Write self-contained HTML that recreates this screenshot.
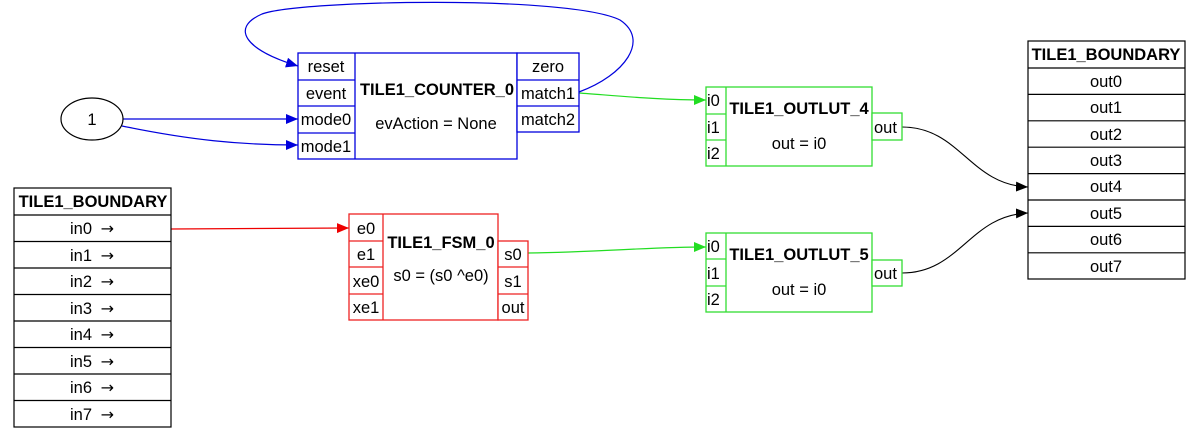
<!DOCTYPE html>
<html><head><meta charset="utf-8"><style>
html,body{margin:0;padding:0;background:#fff;width:1200px;height:437px;overflow:hidden}
svg text{font-family:"Liberation Sans",Arial,sans-serif;font-size:16.5px;fill:#000}
.b{font-weight:bold;font-size:16.5px}
.ar{font-family:"DejaVu Sans",sans-serif;font-size:16px}
</style></head><body>
<svg width="1200" height="437" viewBox="0 0 1200 437" xmlns="http://www.w3.org/2000/svg">
<defs>
<marker id="ab" markerWidth="12" markerHeight="10" refX="12" refY="5" orient="auto" markerUnits="userSpaceOnUse"><path d="M0,0L12,5L0,10z" fill="#0000dd"/></marker>
<marker id="ar" markerWidth="12" markerHeight="10" refX="12" refY="5" orient="auto" markerUnits="userSpaceOnUse"><path d="M0,0L12,5L0,10z" fill="#ee0000"/></marker>
<marker id="ag" markerWidth="12" markerHeight="10" refX="12" refY="5" orient="auto" markerUnits="userSpaceOnUse"><path d="M0,0L12,5L0,10z" fill="#22dd22"/></marker>
<marker id="ak" markerWidth="12" markerHeight="10" refX="12" refY="5" orient="auto" markerUnits="userSpaceOnUse"><path d="M0,0L12,5L0,10z" fill="#000"/></marker>
</defs>

<path d="M579,92 C625,75 650,40 620,20 C570,-5 300,0 262,14 C230,28 245,50 298,66" fill="none" stroke="#0000dd" stroke-width="1.2" marker-end="url(#ab)"/>
<path d="M123,119 L298,119" fill="none" stroke="#0000dd" stroke-width="1.2" marker-end="url(#ab)"/>
<path d="M122,126 C190,140 240,145 298,145" fill="none" stroke="#0000dd" stroke-width="1.2" marker-end="url(#ab)"/>
<path d="M171,229 L349,228" fill="none" stroke="#ee0000" stroke-width="1.2" marker-end="url(#ar)"/>
<path d="M579,93 C620,96 660,100 706,100" fill="none" stroke="#22dd22" stroke-width="1.2" marker-end="url(#ag)"/>
<path d="M528,253 C600,252 650,247 706,247" fill="none" stroke="#22dd22" stroke-width="1.2" marker-end="url(#ag)"/>
<path d="M902,127 C960,127 970,185 1028,187" fill="none" stroke="#000" stroke-width="1.1" marker-end="url(#ak)"/>
<path d="M902,273 C960,273 970,215 1028,213" fill="none" stroke="#000" stroke-width="1.1" marker-end="url(#ak)"/>

<ellipse cx="92" cy="119" rx="31" ry="21" fill="#fff" stroke="#000" stroke-width="1.2"/>
<text x="92" y="125" text-anchor="middle">1</text>

<g fill="#fff" stroke="#0000dd" stroke-width="1.3">
<rect x="298" y="53" width="219" height="106"/>
<rect x="517" y="53" width="62" height="79"/>
<line x1="355" y1="53" x2="355" y2="159"/>
<line x1="298" y1="80" x2="355" y2="80"/><line x1="298" y1="106" x2="355" y2="106"/><line x1="298" y1="133" x2="355" y2="133"/>
<line x1="517" y1="80" x2="579" y2="80"/><line x1="517" y1="106" x2="579" y2="106"/>
</g>
<g text-anchor="middle">
<text x="326" y="72">reset</text><text x="326" y="99">event</text><text x="326" y="125">mode0</text><text x="326" y="152">mode1</text>
<text x="548" y="72">zero</text><text x="548" y="99">match1</text><text x="548" y="125">match2</text>
<text x="437" y="95" class="b">TILE1_COUNTER_0</text><text x="436" y="129">evAction = None</text>
</g>

<g fill="#fff" stroke="#ee2222" stroke-width="1.3">
<rect x="349" y="214" width="149" height="106"/>
<line x1="383" y1="214" x2="383" y2="320"/>
<line x1="349" y1="241" x2="383" y2="241"/><line x1="349" y1="267" x2="383" y2="267"/><line x1="349" y1="294" x2="383" y2="294"/>
<rect x="498" y="241" width="30" height="79"/>
<line x1="498" y1="267" x2="528" y2="267"/><line x1="498" y1="294" x2="528" y2="294"/>
</g>
<g text-anchor="middle">
<text x="366" y="234">e0</text><text x="366" y="260">e1</text><text x="366" y="287">xe0</text><text x="366" y="313">xe1</text>
<text x="513" y="260">s0</text><text x="513" y="287">s1</text><text x="513" y="313">out</text>
<text x="441" y="248" class="b">TILE1_FSM_0</text><text x="441" y="281">s0 = (s0 ^e0)</text>
</g>

<g fill="#fff" stroke="#33dd33" stroke-width="1.3">
<rect x="706" y="87" width="166" height="79"/>
<line x1="726" y1="87" x2="726" y2="166"/>
<line x1="706" y1="114" x2="726" y2="114"/><line x1="706" y1="140" x2="726" y2="140"/>
<rect x="872" y="113" width="30" height="27"/>
<rect x="706" y="233" width="166" height="79"/>
<line x1="726" y1="233" x2="726" y2="312"/>
<line x1="706" y1="259" x2="726" y2="259"/><line x1="706" y1="286" x2="726" y2="286"/>
<rect x="872" y="260" width="30" height="26"/>
</g>
<g>
<text x="707" y="106">i0</text><text x="707" y="133">i1</text><text x="707" y="159">i2</text>
<text x="874" y="133">out</text>
<text x="799" y="114" class="b" text-anchor="middle">TILE1_OUTLUT_4</text><text x="799" y="149" text-anchor="middle">out = i0</text>
<text x="707" y="252">i0</text><text x="707" y="279">i1</text><text x="707" y="305">i2</text>
<text x="874" y="279">out</text>
<text x="799" y="260" class="b" text-anchor="middle">TILE1_OUTLUT_5</text><text x="799" y="295" text-anchor="middle">out = i0</text>
</g>

<g fill="none" stroke="#000" stroke-width="1.2">
<rect x="14" y="188" width="157" height="239" fill="#fff"/>
<line x1="14" y1="215" x2="171" y2="215"/>
<line x1="14" y1="241.5" x2="171" y2="241.5"/><line x1="14" y1="268" x2="171" y2="268"/>
<line x1="14" y1="294.5" x2="171" y2="294.5"/><line x1="14" y1="321" x2="171" y2="321"/>
<line x1="14" y1="347.5" x2="171" y2="347.5"/><line x1="14" y1="374" x2="171" y2="374"/>
<line x1="14" y1="400.5" x2="171" y2="400.5"/>
</g>
<g text-anchor="middle">
<text x="93" y="207" class="b">TILE1_BOUNDARY</text>
</g>
<g>
<text x="70" y="234">in0 <tspan class="ar" dx="4">→</tspan></text>
<text x="70" y="261">in1 <tspan class="ar" dx="4">→</tspan></text>
<text x="70" y="287">in2 <tspan class="ar" dx="4">→</tspan></text>
<text x="70" y="314">in3 <tspan class="ar" dx="4">→</tspan></text>
<text x="70" y="340">in4 <tspan class="ar" dx="4">→</tspan></text>
<text x="70" y="367">in5 <tspan class="ar" dx="4">→</tspan></text>
<text x="70" y="393">in6 <tspan class="ar" dx="4">→</tspan></text>
<text x="70" y="420">in7 <tspan class="ar" dx="4">→</tspan></text>
</g>

<g fill="none" stroke="#000" stroke-width="1.2">
<rect x="1028" y="41" width="157" height="238" fill="#fff"/>
<line x1="1028" y1="68" x2="1185" y2="68"/>
<line x1="1028" y1="94.4" x2="1185" y2="94.4"/><line x1="1028" y1="120.8" x2="1185" y2="120.8"/>
<line x1="1028" y1="147.2" x2="1185" y2="147.2"/><line x1="1028" y1="173.6" x2="1185" y2="173.6"/>
<line x1="1028" y1="200" x2="1185" y2="200"/><line x1="1028" y1="226.4" x2="1185" y2="226.4"/>
<line x1="1028" y1="252.8" x2="1185" y2="252.8"/>
</g>
<g text-anchor="middle">
<text x="1106" y="60" class="b">TILE1_BOUNDARY</text>
<text x="1106" y="87">out0</text><text x="1106" y="113">out1</text><text x="1106" y="140">out2</text><text x="1106" y="166">out3</text>
<text x="1106" y="192">out4</text><text x="1106" y="219">out5</text><text x="1106" y="245">out6</text><text x="1106" y="272">out7</text>
</g>
</svg>
</body></html>
